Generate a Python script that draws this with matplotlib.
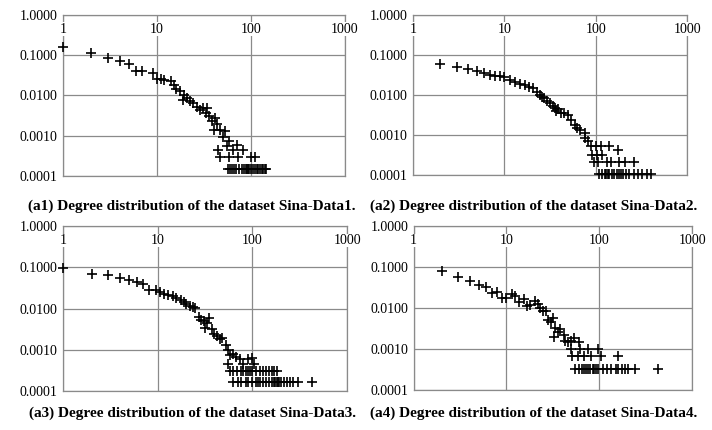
# %% Setup
import matplotlib
matplotlib.use("Agg")
import matplotlib.pyplot as plt

plt.rcParams["font.family"] = ["Liberation Serif", "DejaVu Serif"]

X_TICKS = [1, 10, 100, 1000]
X_TICK_LABELS = ["1", "10", "100", "1000"]
Y_TICKS = [0.0001, 0.001, 0.01, 0.1, 1.0]
Y_TICK_LABELS = ["0.0001", "0.0010", "0.0100", "0.1000", "1.0000"]

CAPTIONS = [
    "(a1) Degree distribution of the dataset Sina-Data1.",
    "(a2) Degree distribution of the dataset Sina-Data2.",
    "(a3) Degree distribution of the dataset Sina-Data3.",
    "(a4) Degree distribution of the dataset Sina-Data4.",
]

# %% Data (degree k, P(k))
k1 = [1, 2, 3, 4, 5, 6, 7, 9, 10, 11, 12, 14, 15, 16, 17.5, 19.5, 19, 21, 22.5, 24,
      26.5, 29, 31, 33, 34, 36, 38.5, 41.5, 43, 40, 47, 50, 53, 55, 59,
      45, 65, 71, 72, 47, 59, 82, 101, 111,
      57, 60, 63, 66, 70, 75, 80, 85, 88, 90, 93, 96, 100, 105, 110, 115, 120,
      125, 130, 135, 140, 145]
p1 = [0.164, 0.116, 0.0875, 0.070, 0.061, 0.0417, 0.040, 0.0358, 0.0254, 0.0254,
      0.024, 0.023, 0.0184, 0.0145, 0.0126, 0.0104, 0.0078, 0.0086, 0.0071, 0.0065,
      0.0053, 0.0044, 0.0048, 0.0036, 0.0048, 0.0030, 0.0023, 0.0027, 0.0019, 0.0014,
      0.0014, 0.00093, 0.0013, 0.00056, 0.00072,
      0.00044, 0.00044, 0.00058, 0.0003, 0.0003, 0.0003, 0.00044, 0.0003, 0.0003,
      0.00015, 0.00015, 0.00015, 0.00015, 0.00015, 0.00015, 0.00015, 0.00015,
      0.00015, 0.00015, 0.00015, 0.00015, 0.00015, 0.00015, 0.00015, 0.00015,
      0.00015, 0.00015, 0.00015, 0.00015, 0.00015, 0.00015]

k2 = [2, 3, 4, 5, 6, 7, 8, 9, 10, 11.5, 13, 15, 16.8, 18.5, 20.6, 22.5, 24.4, 26,
      27.5, 29.5, 31.3, 34, 35.5, 37, 39, 42, 45, 49.5, 54, 59, 63, 68, 76, 77, 82,
      89, 90, 100, 113, 141, 176, 104, 117,
      96, 106, 133, 148, 182, 211, 265,
      110, 118, 125, 130, 135, 140, 150, 160, 170, 180, 190, 200, 215, 230, 260,
      290, 320, 360, 400]
p2 = [0.060, 0.051, 0.046, 0.041, 0.036, 0.0316, 0.030, 0.030, 0.028, 0.024,
      0.0215, 0.0188, 0.0178, 0.0162, 0.0147, 0.012, 0.0102, 0.0091, 0.0083, 0.0072,
      0.0062, 0.0054, 0.0047, 0.0039, 0.0044, 0.0035, 0.0036, 0.0032, 0.0024,
      0.0018, 0.0015, 0.0013, 0.0011, 0.00086, 0.00071, 0.00053, 0.00032, 0.00054,
      0.00054, 0.00054, 0.00043, 0.00032, 0.00032,
      0.000215, 0.000215, 0.000215, 0.000215, 0.000215, 0.000215, 0.000215,
      0.000107, 0.000107, 0.000107, 0.000107, 0.000107, 0.000107, 0.000107,
      0.000107, 0.000107, 0.000107, 0.000107, 0.000107, 0.000107, 0.000107,
      0.000107, 0.000107, 0.000107, 0.000107, 0.000107]

k3 = [1, 2, 3, 4, 5, 6, 7, 8, 9.5, 10.5, 11.7, 13, 14.5, 15.5, 17.5, 19, 20, 22,
      23.5, 25, 27.5, 28.5, 30.5, 33, 31.5, 35, 37, 39, 42, 46, 48, 52, 55, 58, 63,
      67, 55, 74, 80, 90, 100, 104,
      58, 63, 68, 75, 80, 85, 90, 95, 100, 110, 120, 130, 140, 150, 160, 170, 180,
      63, 70, 76, 85, 90, 100, 110, 115, 120, 130, 140, 150, 160, 170, 175, 180,
      185, 190, 200, 215, 230, 250, 270, 300, 430]
p3 = [0.098, 0.070, 0.064, 0.056, 0.048, 0.044, 0.040, 0.0275, 0.0275, 0.025,
      0.023, 0.021, 0.0197, 0.018, 0.0157, 0.0142, 0.0129, 0.0117, 0.0108, 0.0102,
      0.0064, 0.0054, 0.0049, 0.0044, 0.0034, 0.0060, 0.0032, 0.0024, 0.0021,
      0.0018, 0.0019, 0.0013, 0.0010, 0.00075, 0.0008, 0.00066, 0.00046, 0.00059,
      0.00046, 0.00059, 0.00063, 0.00046,
      0.00031, 0.00031, 0.00031, 0.00031, 0.00031, 0.00031, 0.00031, 0.00031,
      0.00031, 0.00031, 0.00031, 0.00031, 0.00031, 0.00031, 0.00031, 0.00031,
      0.00031,
      0.00016, 0.00016, 0.00016, 0.00016, 0.00016, 0.00016, 0.00016, 0.00016,
      0.00016, 0.00016, 0.00016, 0.00016, 0.00016, 0.00016, 0.00016, 0.00016,
      0.00016, 0.00016, 0.00016, 0.00016, 0.00016, 0.00016, 0.00016, 0.00016,
      0.00016]

k4 = [2, 3, 4, 5, 6, 7, 8, 9, 10, 11.6, 12.3, 13.5, 15.4, 16.5, 18, 20.5, 21.7, 23,
      25, 26.5, 27.8, 30, 32, 33, 32.5, 36, 38, 42, 43, 46, 49, 53, 60,
      49, 62, 76, 96,
      51, 59, 68, 82, 104, 158,
      55, 60, 65, 68, 72, 76, 80, 85, 88, 92, 96, 110, 120, 135, 150, 160, 175,
      190, 205, 240, 430]
p4 = [0.079, 0.058, 0.045, 0.037, 0.032, 0.024, 0.025, 0.018, 0.018, 0.0215,
      0.0196, 0.014, 0.017, 0.011, 0.0117, 0.0152, 0.0126, 0.010, 0.0086, 0.0083,
      0.0052, 0.0047, 0.0056, 0.0032, 0.0020, 0.0026, 0.0031, 0.0022, 0.0016,
      0.0015, 0.0016, 0.0019, 0.0015,
      0.001, 0.001, 0.001, 0.001,
      0.00066, 0.00066, 0.00066, 0.00066, 0.00066, 0.00066,
      0.00033, 0.00033, 0.00033, 0.00033, 0.00033, 0.00033, 0.00033, 0.00033,
      0.00033, 0.00033, 0.00033, 0.00033, 0.00033, 0.00033, 0.00033, 0.00033,
      0.00033, 0.00033, 0.00033, 0.00033, 0.00033]

SERIES = [(k1, p1), (k2, p2), (k3, p3), (k4, p4)]

# %% Figure
fig = plt.figure(figsize=(7.12, 4.30), dpi=100)

# [left, bottom, width, height] in figure fractions
POSICIONES = [
    [0.0885, 0.591, 0.396, 0.374],
    [0.580, 0.593, 0.385, 0.372],
    [0.0885, 0.091, 0.399, 0.383],
    [0.581, 0.093, 0.391, 0.381],
]
CAPTION_XY = [(0.270, 0.521), (0.749, 0.521), (0.270, 0.040), (0.749, 0.040)]

GRIS = "#8a8a8a"

for i, (k, p) in enumerate(SERIES):
    ax = fig.add_axes(POSICIONES[i])
    ax.set_xscale("log")
    ax.set_yscale("log")
    ax.set_xlim(1, 1000)
    ax.set_ylim(0.0001, 1.0)
    ax.plot(k, p, linestyle="none", marker="+", color="black",
            markersize=6.5, markeredgewidth=1.2, clip_on=False, zorder=4)
    ax.minorticks_off()
    ax.set_xticks(X_TICKS, X_TICK_LABELS)
    ax.set_yticks(Y_TICKS, Y_TICK_LABELS)
    ax.xaxis.set_ticks_position("top")
    ax.tick_params(axis="x", length=0, pad=-15, labelsize=10)
    ax.tick_params(axis="y", length=0, pad=4, labelsize=10)
    ax.grid(True, color=GRIS, linewidth=0.9)
    ax.xaxis.set_zorder(3)
    for etiqueta in ax.get_xticklabels():
        etiqueta.set_bbox(dict(facecolor="white", edgecolor="none", pad=0.3))
    for lado in ax.spines.values():
        lado.set_color(GRIS)
        lado.set_linewidth(0.9)
    fig.text(CAPTION_XY[i][0], CAPTION_XY[i][1], CAPTIONS[i],
             ha="center", va="center", fontsize=11, fontweight="bold")

fig.savefig("out.png", dpi=100)
plt.close()
